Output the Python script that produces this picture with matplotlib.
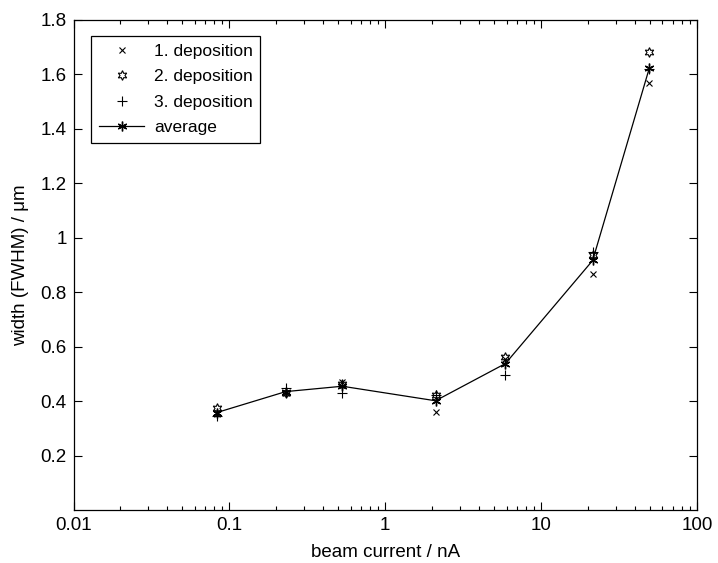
import numpy as np
import matplotlib
matplotlib.use("Agg")
import matplotlib.pyplot as plt
from matplotlib.ticker import FixedLocator, LogLocator, NullFormatter

plt.rcParams['font.family'] = ['Liberation Sans', 'DejaVu Sans']

current = [0.083, 0.23, 0.53, 2.1, 5.9, 21.4, 49.5]
dep1 = [0.354, 0.429, 0.470, 0.359, 0.555, 0.866, 1.570]
dep2 = [0.375, 0.429, 0.463, 0.422, 0.563, 0.935, 1.684]
dep3 = [0.345, 0.447, 0.431, 0.423, 0.496, 0.949, 1.620]
average = [(a + b + c) / 3 for a, b, c in zip(dep1, dep2, dep3)]

yticks = [0.2, 0.4, 0.6, 0.8, 1.0, 1.2, 1.4, 1.6, 1.8]
yticklabels = ['0.2', '0.4', '0.6', '0.8', '1', '1.2', '1.4', '1.6', '1.8']
xticks = [0.01, 0.1, 1, 10, 100]
xticklabels = ['0.01', '0.1', '1', '10', '100']

fs = 13.5

fig = plt.figure(figsize=(7.18, 5.63), dpi=100)
ax = fig.add_axes([0.1024, 0.0941, 0.8684, 0.8704])

ax.plot(current, dep1, linestyle='none', marker='x', color='k', markersize=5,
        markeredgewidth=0.8, label='1. deposition')
ax.plot(current, dep2, linestyle='none', marker=(6, 1, 0), color='k', markersize=7,
        markerfacecolor='none', markeredgewidth=0.8, label='2. deposition')
ax.plot(current, dep3, linestyle='none', marker='+', color='k', markersize=7,
        markeredgewidth=0.8, label='3. deposition')
ax.plot(current, average, linestyle='-', linewidth=0.9, marker=(6, 2, 0), color='k',
        markersize=7, markeredgewidth=1.0, label='average')

ax.set_xscale('log')
ax.set_xlim(0.01, 100)
ax.set_ylim(0, 1.8)
ax.xaxis.set_major_locator(FixedLocator(xticks))
ax.set_xticklabels(xticklabels)
ax.xaxis.set_minor_locator(LogLocator(base=10, subs=np.arange(2, 10)))
ax.xaxis.set_minor_formatter(NullFormatter())
ax.set_yticks(yticks)
ax.set_yticklabels(yticklabels)

ax.tick_params(which='both', direction='in', top=True, right=True, labelsize=fs,
               width=0.8, color='k')
ax.tick_params(which='major', length=6, pad=5)
ax.tick_params(which='minor', length=3)
for s in ax.spines.values():
    s.set_linewidth(0.9)

ax.set_xlabel('beam current / nA', fontsize=fs, labelpad=7)
ax.set_ylabel('width (FWHM) / μm', fontsize=fs, labelpad=8)

leg = ax.legend(loc='upper left', bbox_to_anchor=(0.0285, 0.968), fontsize=12.5,
                frameon=True, fancybox=False, edgecolor='k', framealpha=1,
                handlelength=2.6, borderpad=0.45, labelspacing=0.6, handletextpad=0.55,
                borderaxespad=0)
leg.get_frame().set_linewidth(0.9)

fig.savefig('out.png', dpi=100)
